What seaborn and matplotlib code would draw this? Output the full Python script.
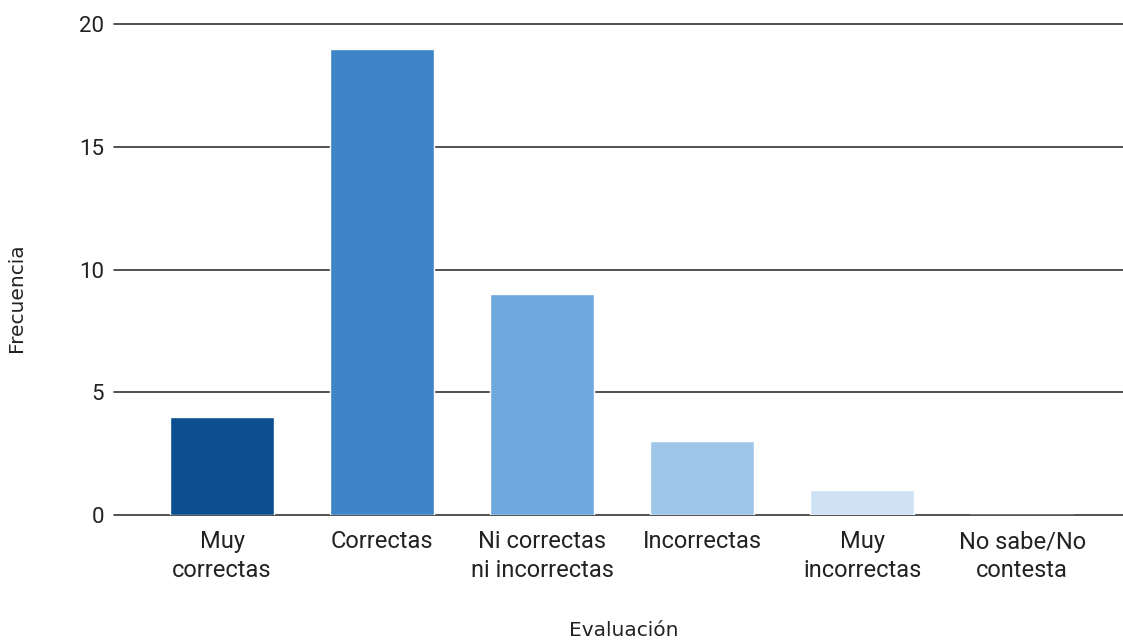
# =========================================
# EVALUACION - FRECUENCIA (bar chart)
# =========================================

import pandas as pd
import matplotlib
matplotlib.use("Agg")
import matplotlib.pyplot as plt
import seaborn as sns

categorias = [
    "Muy\ncorrectas",
    "Correctas",
    "Ni correctas\nni incorrectas",
    "Incorrectas",
    "Muy\nincorrectas",
    "No sabe/No\ncontesta",
]
frecuencia = [4, 19, 9, 3, 1, 0]
colores = ["#0b4f8f", "#3d85c6", "#6fa8dc", "#9fc5e8", "#cfe2f3", "#e8f1fa"]
yticks = [0, 5, 10, 15, 20]

df = pd.DataFrame({"Evaluacion": categorias, "Frecuencia": frecuencia})

sns.set_style("white")
plt.rcParams["font.family"] = ["Roboto", "DejaVu Sans"]

fig = plt.figure(figsize=(11.23, 6.40), dpi=100)
ax = fig.add_axes([114 / 1123, 1 - 515 / 640, 1 - 114 / 1123, (515 - 24) / 640])

sns.barplot(
    data=df,
    x="Evaluacion",
    y="Frecuencia",
    hue="Evaluacion",
    palette=colores,
    saturation=1,
    legend=False,
    width=0.65,
    ax=ax,
    zorder=3,
)

ax.set_ylim(0, 20)
ax.set_xlim(-0.675, 5.63)
ax.set_yticks(yticks)

for y in yticks:
    ax.axhline(y, color="#333333", linewidth=1.2, zorder=2, clip_on=False)

for s in ax.spines.values():
    s.set_visible(False)

ax.tick_params(axis="both", length=0, colors="#222222")
ax.tick_params(axis="y", pad=7, labelsize=16)
ax.tick_params(axis="x", pad=11, labelsize=17)
for lbl in ax.get_xticklabels():
    lbl.set_linespacing(1.3)

ax.set_xlabel("Evaluación", fontsize=14.5, family="DejaVu Sans", color="#222222")
ax.set_ylabel("Frecuencia", fontsize=14.5, family="DejaVu Sans", color="#222222")
ax.xaxis.set_label_coords(0.505, -0.216)
ax.yaxis.set_label_coords(-0.087, 0.442)

fig.savefig("out.png", dpi=100, facecolor="white")
